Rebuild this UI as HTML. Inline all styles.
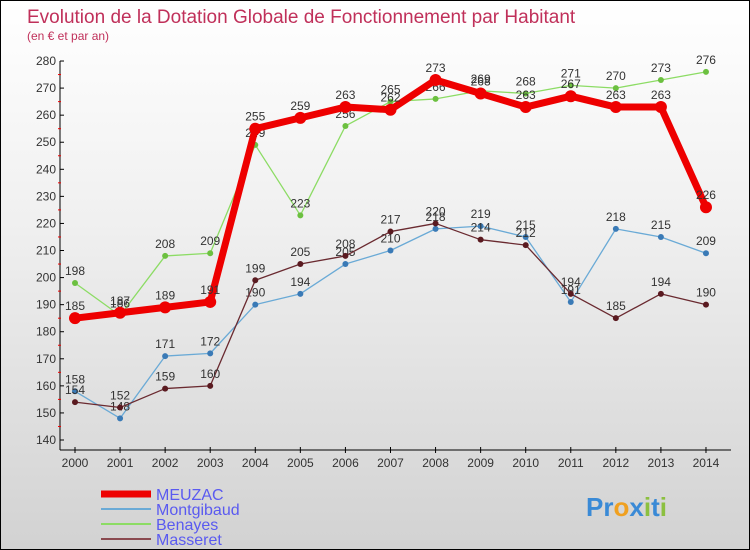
<!DOCTYPE html>
<html><head><meta charset="utf-8"><style>
body{margin:0}
#c{width:748px;height:548px;border:1px solid #000;background:linear-gradient(#ffffff,#f0f0f0 40%,#d2d2d2);position:relative;overflow:hidden;font-family:"Liberation Sans",sans-serif}
</style></head><body>
<div id="c">
<svg id="s" width="748" height="548"></svg>
</div>
<script>
const years=[2000,2001,2002,2003,2004,2005,2006,2007,2008,2009,2010,2011,2012,2013,2014];
const yTicks=[140,150,160,170,180,190,200,210,220,230,240,250,260,270,280];
const meuzac=[185,187,189,191,255,259,263,262,273,268,263,267,263,263,226];
const montgibaud=[158,148,171,172,190,194,205,210,218,219,215,191,218,215,209];
const benayes=[198,186,208,209,249,223,256,265,266,269,268,271,270,273,276];
const masseret=[154,152,159,160,199,205,208,217,220,214,212,194,185,194,190];
const names=["MEUZAC","Montgibaud","Benayes","Masseret"];

const NS="http://www.w3.org/2000/svg";
const s=document.getElementById('s');
function X(i){return 74+i*45.07;}
function Y(v){return 439-(v-140)*2.707;}
function el(t,a,txt){const e=document.createElementNS(NS,t);for(const k in a)e.setAttribute(k,a[k]);if(txt!==undefined)e.textContent=txt;s.appendChild(e);return e;}

let t=el('text',{x:26,y:22,fill:'#c0305a','font-size':19},'Evolution de la Dotation Globale de Fonctionnement par Habitant');

t=el('text',{x:26,y:39,fill:'#c0305a','font-size':12},'(en € et par an)');


let a=el('line',{x1:59,y1:Y(280),x2:59,y2:449,stroke:'#000'});

a=el('line',{x1:59,y1:449,x2:730,y2:449,stroke:'#000'});

yTicks.forEach(v=>{
  el('line',{x1:59,y1:Y(v),x2:63,y2:Y(v),stroke:'#000'});
  if(v<280) el('line',{x1:57,y1:Y(v+5),x2:60,y2:Y(v+5),stroke:'#e00'});
  const l=el('text',{x:55,y:Y(v)+4,'text-anchor':'end','font-size':12,fill:'#333'},v);
  
});
years.forEach((y,i)=>{
  el('line',{x1:X(i),y1:446,x2:X(i),y2:452,stroke:'#000'});
  const l=el('text',{x:X(i),y:466,'text-anchor':'middle','font-size':12,fill:'#333'},y);
  
});
function series(d,col,w,r,dot,nm){
  const p=el('polyline',{points:d.map((v,i)=>X(i)+','+Y(v)).join(' '),fill:'none',stroke:col,'stroke-width':w,'stroke-linejoin':'round'});
  
  d.forEach((v,i)=>{
    const c=el('circle',{cx:X(i),cy:Y(v),r:r,fill:dot});
    
    const l=el('text',{x:X(i),y:Y(v)-8,'text-anchor':'middle','font-size':12,fill:'#333'},v);
    
  });
}
series(montgibaud,'#6aaad6',1.3,3,'#3a7ab6','montgibaud');
series(benayes,'#8cdc64',1.3,3,'#6cc040','benayes');
series(masseret,'#6a2a30',1.3,3,'#5a1a20','masseret');
series(meuzac,'#ee0000',7,6,'#ee0000','meuzac');

const lc=['#ee0000','#6aaad6','#8cdc64','#8a4a50'],lw=[7,2,2,2];
names.forEach((n,i)=>{
  const y=493+i*15;
  const ln=el('line',{x1:100,y1:y,x2:150,y2:y,stroke:lc[i],'stroke-width':lw[i]});
  
  const l=el('text',{x:155,y:y+6,'font-size':16,fill:'#5a5af0'},n);
  
});
const lg=el('text',{x:585,y:515,'font-size':26,'font-weight':'bold',fill:'#3a8ad6'},'');

[['Pr','#3a8ad6'],['o','#f0a020'],['x','#3a8ad6'],['i','#8cc040'],['t','#3a8ad6'],['i','#8cc040']].forEach(([c,f])=>{
  const ts=document.createElementNS(NS,'tspan');ts.setAttribute('fill',f);ts.textContent=c;lg.appendChild(ts);
});
</script>
</body></html>
